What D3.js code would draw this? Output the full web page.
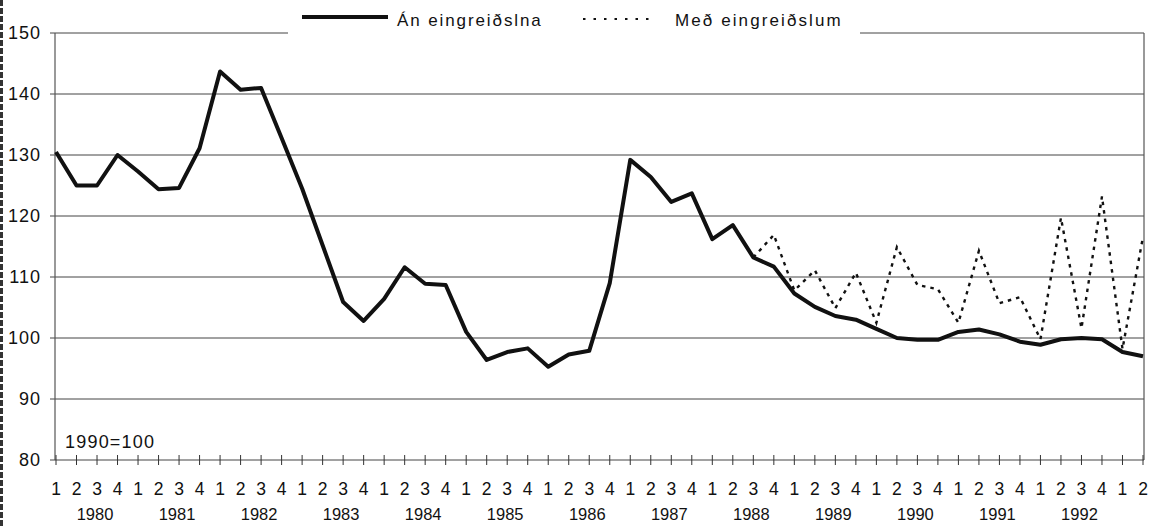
<!DOCTYPE html>
<html>
<head>
<meta charset="utf-8">
<script src="https://cdn.jsdelivr.net/npm/d3@7"></script>
<style>
  body { margin:0; background:#fff; }
  svg text { font-family: "Liberation Sans", Arial, sans-serif; fill:#111; }
</style>
</head>
<body>
<svg id="chart" width="1155" height="526"></svg>
<script>
// quarters 1980 Q1 .. 1993 Q2
var years = [1980,1981,1982,1983,1984,1985,1986,1987,1988,1989,1990,1991,1992];
var quarterLabels = [];
for (var k = 0; k < years.length; k++) { quarterLabels.push("1","2","3","4"); }
quarterLabels.push("1","2");

var yTicks = [80,90,100,110,120,130,140,150];

// Án eingreiðslna
var anEingr = [
  130.5,125.0,125.0,130.0,
  127.3,124.4,124.6,131.1,
  143.7,140.7,141.0,132.8,
  124.5,115.2,105.9,102.8,
  106.4,111.6,108.9,108.7,
  101.0, 96.4, 97.7, 98.3,
   95.3, 97.3, 97.9,109.0,
  129.2,126.4,122.3,123.7,
  116.2,118.5,113.2,111.7,
  107.3,105.1,103.6,103.0,
  101.5,100.0, 99.7, 99.7,
  101.0,101.4,100.6, 99.4,
   98.9, 99.8,100.0, 99.8,
   97.7, 97.0
];

// Með eingreiðslum, starts 1988 Q3
var medStart = 34;
var medEingr = [
  113.2,116.9,
  107.8,111.1,104.9,110.7,
  102.5,114.9,108.7,108.0,
  102.5,114.3,105.7,106.7,
   99.8,119.7,101.6,123.2,
   98.2,116.6
];

var svg = d3.select("#chart");
var plotL = 56, plotR = 1144, plotT = 33, plotB = 460;

var x = d3.scalePoint().domain(d3.range(anEingr.length)).range([plotL, 1143]).padding(0);
var yS = d3.scaleLinear().domain([80,150]).range([plotB, plotT]);

// scan edge on the left
svg.append("line").attr("x1",1.5).attr("x2",1.5).attr("y1",0).attr("y2",526)
   .attr("stroke","#333").attr("stroke-width",3).attr("stroke-dasharray","6,2");

// gridlines
svg.append("g").selectAll("line").data(yTicks.filter(function(d){return d>80;})).enter()
  .append("line")
  .attr("x1", plotL-6).attr("x2", plotR)
  .attr("y1", function(d){return yS(d);}).attr("y2", function(d){return yS(d);})
  .attr("stroke","#444").attr("stroke-width",1);

// y labels
svg.append("g").selectAll("text").data(yTicks).enter()
  .append("text")
  .attr("x", 41).attr("y", function(d){return yS(d);})
  .attr("dy","0.36em")
  .attr("text-anchor","end")
  .style("font-size","18px").style("letter-spacing","1px")
  .text(function(d){return d;});

// axes frame
svg.append("line").attr("x1",plotL-1).attr("x2",plotL-1).attr("y1",plotT).attr("y2",plotB)
   .attr("stroke","#555").attr("stroke-width",1.2);
svg.append("line").attr("x1",plotR).attr("x2",plotR).attr("y1",plotT).attr("y2",plotB)
   .attr("stroke","#555").attr("stroke-width",1.2);
svg.append("line").attr("x1",plotL-6).attr("x2",plotR).attr("y1",plotB).attr("y2",plotB)
   .attr("stroke","#444").attr("stroke-width",1);

// x ticks
svg.append("g").selectAll("line").data(d3.range(anEingr.length)).enter()
  .append("line")
  .attr("x1", function(d){return x(d);}).attr("x2", function(d){return x(d);})
  .attr("y1", plotB-5).attr("y2", plotB+5)
  .attr("stroke","#333").attr("stroke-width",1);

svg.append("g").selectAll("text").data(quarterLabels).enter()
  .append("text")
  .attr("x", function(d,i){return x(i);}).attr("y", 495)
  .attr("text-anchor","middle")
  .style("font-size","17.5px")
  .text(function(d){return d;});

svg.append("g").selectAll("text").data(years).enter()
  .append("text")
  .attr("x", function(d,i){return x(i*4+2)-2;}).attr("y", 520)
  .attr("text-anchor","middle")
  .style("font-size","16.5px")
  .text(function(d){return d;});

svg.append("text").attr("x",65).attr("y",448)
  .style("font-size","18px").style("letter-spacing","1.2px")
  .text("1990=100");

// lines
var line = d3.line()
  .x(function(d){return x(d.i);})
  .y(function(d){return yS(d.v);});

var medData = medEingr.map(function(v,j){return {i:medStart+j, v:v};});
svg.append("path").datum(medData).attr("d", line)
  .attr("fill","none").attr("stroke","#111").attr("stroke-width",2.4)
  .attr("stroke-dasharray","3.5,5");

var anData = anEingr.map(function(v,i){return {i:i, v:v};});
svg.append("path").datum(anData).attr("d", line)
  .attr("fill","none").attr("stroke","#111").attr("stroke-width",4)
  .attr("stroke-linejoin","round");

// legend
var lg = svg.append("g");
lg.append("rect").attr("x",288).attr("y",0).attr("width",572).attr("height",36).attr("fill","#fff");
lg.append("line").attr("x1",302).attr("x2",388).attr("y1",17).attr("y2",17)
  .attr("stroke","#111").attr("stroke-width",4);
lg.append("text").attr("x",397).attr("y",26).style("font-size","17px").style("letter-spacing","1.9px")
  .text("Án eingreiðslna");
lg.append("line").attr("x1",583).attr("x2",656).attr("y1",19).attr("y2",19)
  .attr("stroke","#111").attr("stroke-width",2).attr("stroke-dasharray","2.5,8");
lg.append("text").attr("x",675).attr("y",26).style("font-size","17px").style("letter-spacing","2.1px")
  .text("Með eingreiðslum");
</script>
</body>
</html>
